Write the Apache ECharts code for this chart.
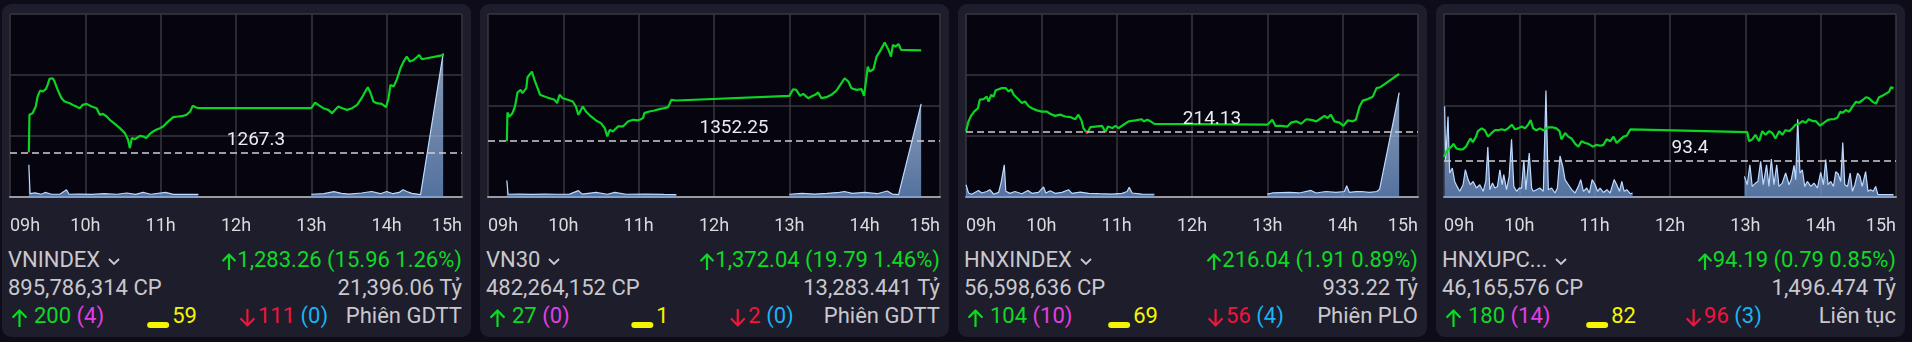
<!DOCTYPE html>
<html><head><meta charset="utf-8">
<script src="https://cdn.jsdelivr.net/npm/echarts@6/dist/echarts.min.js"></script>
<style>
html,body{margin:0;padding:0;background:#0d0c18;width:1912px;height:342px;overflow:hidden;font-family:Roboto,"Noto Sans",sans-serif;}
.card{position:absolute;top:4px;width:469px;height:333px;background:#1e1d2b;border-radius:9px;}
.chart{position:absolute;left:0;top:0;width:469px;height:240px;}
.row{position:absolute;left:0;width:469px;height:28px;font-size:22px;line-height:28px;color:#c8c8ce;white-space:nowrap;}
.row > span{position:absolute;top:0;}
.g{color:#10d826}.m{color:#e23fe6}.y{color:#f5f500}.r{color:#f2143a}.c{color:#1ab4f2}
.bar{display:inline-block;width:22px;height:6px;background:#f5f500;border-radius:3px;vertical-align:-5px;margin-right:3px;}
.chev{margin-left:7px;vertical-align:middle;}
</style></head>
<body>
<div id="wrap"></div>
<script>
// ---------- DATA (time = minutes after 09:00) ----------
const hourTicks = ['09h','10h','11h','12h','13h','14h','15h'];

const vniT = [15,15.5,17,18,20.5,22,24,26,28.5,30,31.5,34,35.5,38,41,43.5,47.5,51.5,55.5,58,61,65,69,71.5,74,77,79.5,83.5,87.5,91.5,94,95.5,97,99.5,103.5,106,108.5,111.5,114,116.5,119.5,122,124.5,127.5,130,134,138,140.5,143.5,145.5,148,150,240,243,245.5,249.5,253.5,256.5,259,261.5,264.5,268.5,272.5,276.5,280,283,285,287,289.5,292,296,299.5,301.5,303,305.5,308,311,313.5,316,318.5,321.5,324,326,328,345];
const vniP = [1267.28,1273.47,1273.20,1273.74,1274.83,1276.47,1277.45,1277.29,1277.67,1278.38,1279.36,1279.47,1278.93,1277.56,1276.20,1275.65,1275.38,1274.94,1274.56,1275.11,1275.27,1274.83,1274.56,1273.47,1273.63,1273.20,1272.65,1272.00,1271.29,1270.47,1269.38,1268.01,1269.65,1269.49,1270.03,1269.92,1269.65,1270.36,1270.74,1271.01,1271.29,1271.56,1272.11,1272.65,1273.09,1273.20,1273.31,1273.47,1274.02,1274.94,1274.72,1274.56,1274.56,1275.49,1275.11,1274.56,1274.29,1273.74,1274.29,1274.83,1274.56,1274.29,1274.56,1275.11,1276.20,1277.29,1278.00,1277.13,1275.65,1275.38,1275.27,1274.72,1276.20,1278.38,1278.11,1279.20,1281.11,1282.20,1283.02,1282.20,1282.47,1282.91,1283.29,1282.58,1283.26];
const vniVT = [15,16,20,25,28,33,40,45,47,55,65,75,85,93,100,106,112,124,130,140,150,195,240,250,258,264,270,280,288,295,300,305,310,313,316,320,327,345];
const vniV = [17.6,1.8,2.3,1.5,2.5,1.5,1.6,4.0,1.5,1.6,1.4,1.8,1.5,2.2,1.4,2.5,1.5,2.5,1.4,1.5,1.4,null,1.5,1.8,2.9,2.0,1.6,2.2,3.0,1.8,3.0,1.8,2.5,4.0,3.0,2.0,1.3,78.5];

const v30T = [15,15.5,17,19.5,21.5,23.5,26,27.5,30.5,31.5,35,37,39.5,41.5,45,49,53,55,57,59.5,63.5,67.5,70,72,75.5,78,82,86,90,93,95,97,99.5,103.5,107.5,111.5,115.5,119.5,123.5,124.5,128.5,132.5,136.5,140.5,143.5,146,150,240,243,245.5,248.5,251,255,257.5,260.5,263,265.5,269.5,273.5,277.5,281.5,284,287,289.5,293.5,297.5,299.5,302.5,304,307,309.5,312,316,319,321,322.5,324.5,327,329,345];
const v30P = [1352.20,1358.47,1357.60,1358.33,1359.78,1362.84,1363.42,1362.69,1363.78,1366.18,1367.42,1365.60,1363.78,1362.33,1361.96,1361.60,1361.24,1360.51,1362.33,1361.60,1361.24,1360.87,1359.78,1357.96,1359.78,1358.69,1357.60,1356.73,1356.15,1355.05,1353.24,1354.69,1354.33,1355.42,1355.42,1356.51,1356.87,1356.73,1357.24,1358.33,1358.69,1358.91,1359.20,1359.42,1359.64,1361.24,1361.09,1362.11,1363.56,1363.42,1362.11,1362.55,1361.60,1361.96,1362.33,1362.84,1361.60,1361.82,1362.33,1363.27,1364.87,1365.96,1365.24,1363.78,1363.42,1363.56,1362.11,1368.51,1367.42,1367.93,1370.69,1371.78,1373.75,1372.15,1370.69,1373.24,1372.87,1373.45,1372.15,1372.04];
const v30VT = [15,16,25,35,45,55,65,72,75,86,95,101,110,125,140,150,195,240,250,260,270,280,284,290,300,310,318,322,327,345];
const v30V = [9.1,1.5,1.6,1.4,1.6,1.5,1.6,3.5,1.6,2.5,1.5,2.5,1.5,1.6,1.4,1.3,null,1.5,2.0,1.6,2.0,2.5,3.0,2.0,2.5,1.8,3.3,1.6,1.3,50.9];

const hnxT = [0,2,4,6.5,9.5,11,14,16.5,18,20,22,23.5,26,28.5,31.5,34,36,38,39.5,42,44.5,47,50,52.5,56.5,60.5,64.5,67,71,75,79,83,87,89.5,92,93.5,96.5,99,103,108.5,111,113,116.5,119,121.5,125.5,129.5,135,140,141.5,144.5,147,150,240,244,246.5,251,256,259,263,267,271,275,279,281.5,285.5,288,290.5,293.5,297.5,300.5,304,308,310.5,313.5,316,320,324,327,330,345];
const hnxP = [214.15,214.48,214.66,214.80,214.91,215.19,215.21,215.29,215.13,215.35,215.29,215.49,215.53,215.57,215.57,215.46,215.53,215.35,215.40,215.19,215.08,215.13,214.97,214.91,214.84,214.80,214.80,214.73,214.66,214.70,214.64,214.62,214.55,214.70,214.51,214.26,214.09,214.29,214.31,214.33,214.12,214.31,214.26,214.33,214.26,214.37,214.48,214.51,214.55,214.48,214.53,214.48,214.40,214.37,214.53,214.33,214.33,214.31,214.44,214.48,214.40,214.55,214.53,214.48,214.55,214.66,214.59,214.70,214.48,214.44,214.33,214.51,214.48,214.53,214.97,215.16,215.21,215.29,215.57,215.60,216.04];
const hnxVT = [0,2,4.5,10,12.5,16.5,19,22,26,28,29,30.5,31.7,35,39,44.5,49.3,52.4,57.7,61.8,63.6,67,71,76.4,81.7,84.4,91,97.7,105.7,116.3,124.3,128.3,130,132.3,140,150,195,240,244,257.4,265.4,274.8,278.8,286.7,294.7,301.4,303.2,305.4,310.7,314.7,321.4,327.2,329.4,345];
const hnxV = [6.7,2.2,1.5,3.6,2.2,3.0,4.0,1.5,2.5,8.0,7.6,17.6,3.1,2.0,3.0,1.8,3.6,2.0,2.5,5.5,2.2,3.4,2.0,2.5,4.0,2.0,2.7,2.0,1.8,1.6,2.0,3.0,5.3,2.2,1.6,1.5,null,1.6,2.2,2.5,2.2,3.6,2.2,3.0,2.5,3.0,6.2,2.5,2.9,3.0,2.5,3.0,4.2,57];

const upT = [0,2,4,6,7.5,10,12.5,15,17.5,19,21,23,25.5,27,30,32.5,35,38,40.5,43,46,48.5,51,54,56.5,59,62,64.5,67,69,71,73.5,76.5,79,83,87,89.5,92,93.5,96.5,99,101.5,104.5,107,109.5,112.5,115,118.5,121.5,124.5,127,129.5,132.5,135,137.5,140.5,143,145.5,148.5,150,241.5,243,245.5,248,251,253.5,256,259,261.5,264,267,269.5,272,275,277.5,280,282.5,285.5,288,290.5,293.5,296,299.5,302.5,305.5,308,310.5,313.5,315.5,317.5,320,322.5,325.5,328,330.5,333.5,336,338.5,341.5,344,346.5,349.5,352,354.5,356,358];
const upP = [93.44,93.50,93.53,93.55,93.58,93.53,93.52,93.52,93.55,93.59,93.64,93.60,93.66,93.72,93.75,93.73,93.66,93.70,93.73,93.73,93.74,93.73,93.75,93.79,93.74,93.75,93.77,93.75,93.79,93.84,93.75,93.73,93.75,93.73,93.76,93.76,93.75,93.72,93.63,93.70,93.66,93.64,93.58,93.55,93.61,93.59,93.58,93.55,93.57,93.56,93.57,93.63,93.61,93.66,93.59,93.63,93.66,93.67,93.74,93.75,93.71,93.61,93.63,93.68,93.61,93.72,93.68,93.72,93.70,93.64,93.72,93.68,93.73,93.72,93.75,93.79,93.80,93.83,93.81,93.85,93.83,93.83,93.78,93.81,93.84,93.85,93.85,93.87,93.93,93.92,93.95,93.93,93.99,94.04,94.03,94.06,94.09,94.08,94.04,94.02,94.09,94.11,94.13,94.15,94.20,94.19];
const upVT = [0.5,1.3,3.2,4.5,6.6,8.5,10.4,12.5,15.2,17,19.2,21,23.2,25.8,28.5,31.2,33.3,34.9,36.5,38.6,40.5,42.6,44.5,46.3,47.6,49.8,51.9,53.8,55.6,57.8,59.9,61.8,63.6,65.2,67.9,69.8,71.1,73.7,76.4,79.1,81.2,83.1,85.7,88.4,90.3,92.4,94.6,96.4,99.1,101.7,104.4,107,108.9,111,113.7,115.8,118,120.4,122.3,124.3,127,129.7,132.3,135.5,137.6,139.8,141.6,143.5,145.6,148.3,150.2,195,239.3,241.5,243.6,245.5,248.1,250,252.2,254.3,256.9,258.8,260.7,262.8,265,266.8,269.4,272.1,274.8,276.6,278.8,280.1,281.7,283.5,285.4,287.3,289.4,292.1,294.7,297.4,300,302.2,304,305.9,308,310.2,312,313.9,316,317.6,319.2,321.4,323.5,325.3,327.2,329.4,331.3,333.1,335.8,337.7,339.8,341.9,343.8,345.6,358];
const upV = [49.5,20.4,44.0,13.1,15.8,8.5,5.8,3.1,6.7,14.9,9.5,6.7,8.5,4.9,6.7,3.1,8.5,27.3,4.0,7.6,4.9,5.8,14.9,6.7,12.2,4.0,11.3,31.6,5.8,3.1,4.9,4.9,20.0,4.0,24.0,4.9,3.1,4.0,4.9,3.1,58.2,4.0,4.9,2.2,4.9,22.4,16.7,9.5,6.7,4.0,2.2,5.8,9.5,3.1,4.9,2.2,9.5,6.7,3.1,4.9,2.5,4.0,2.2,9.5,6.7,3.1,8.5,3.1,4.0,1.8,2.2,null,11.3,6.7,17.6,5.8,7.6,8.5,19.5,6.7,17.6,5.8,20.7,6.7,17.6,5.8,7.6,13.1,6.7,9.5,17.3,9.5,42.5,13.1,14.9,5.8,8.5,5.8,7.6,4.9,13.5,6.7,20.4,6.7,8.5,5.8,13.8,12.7,8.5,29.8,6.7,5.8,13.1,3.1,6.7,13.1,11.3,5.8,13.9,3.1,4.0,3.1,5.8,1.3,1.3];

const refs = [1267.3, 1352.25, 214.13, 93.4];
const yMins = [1260, 1340, 212, 93];
const yMaxs = [1290, 1380, 218, 95];
const ySteps = [10, 20, 2, 1];

const names = ['VNINDEX', 'VN30', 'HNXINDEX', 'HNXUPC...'];
const lastTexts = ['1,283.26 (15.96 1.26%)', '1,372.04 (19.79 1.46%)', '216.04 (1.91 0.89%)', '94.19 (0.79 0.85%)'];
const volTexts = ['895,786,314 CP', '482,264,152 CP', '56,598,636 CP', '46,165,576 CP'];
const valTexts = ['21,396.06 Tỷ', '13,283.441 Tỷ', '933.22 Tỷ', '1,496.474 Tỷ'];
const upCounts = [200, 27, 104, 180];
const ceilCounts = [4, 0, 10, 14];
const flatCounts = [59, 1, 69, 82];
const downCounts = [111, 2, 56, 96];
const floorCounts = [0, 0, 4, 3];
const sessions = ['Phiên GDTT', 'Phiên GDTT', 'Phiên PLO', 'Liên tục'];

const series = [
  {t: vniT, p: vniP, vt: vniVT, v: vniV},
  {t: v30T, p: v30P, vt: v30VT, v: v30V},
  {t: hnxT, p: hnxP, vt: hnxVT, v: hnxV},
  {t: upT, p: upP, vt: upVT, v: upV}
];

// ---------- LAYOUT ----------
const cardLefts = [2, 480, 958, 1436];
const wrap = document.getElementById('wrap');
const chev = '<svg class="chev" width="14" height="9" viewBox="0 0 14 9"><polyline points="2,2 7,7 12,2" fill="none" stroke="#c8c8ce" stroke-width="1.8"/></svg>';
function arrow(up, w, h, color, va, mr) {
  const cx = w / 2;
  const d = up
    ? 'M' + cx + ' ' + (h - 0.5) + 'V1.5M1.2 ' + (cx + 0.5) + 'L' + cx + ' 1.5L' + (w - 1.2) + ' ' + (cx + 0.5)
    : 'M' + cx + ' 0.5V' + (h - 1.5) + 'M1.2 ' + (h - cx - 0.5) + 'L' + cx + ' ' + (h - 1.5) + 'L' + (w - 1.2) + ' ' + (h - cx - 0.5);
  return '<svg width="' + w + '" height="' + h + '" viewBox="0 0 ' + w + ' ' + h + '" style="vertical-align:' + va + 'px;margin-right:' + mr + 'px"><path d="' + d + '" fill="none" stroke="' + color + '" stroke-width="2.2" stroke-linecap="round" stroke-linejoin="round"/></svg>';
}
const GREEN = '#10d826', RED = '#f2143a';
const zip = (a, b) => a.map((x, i) => [x, b[i] === null ? '-' : b[i]]);

for (let i = 0; i < 4; i++) {
  const card = document.createElement('div');
  card.className = 'card';
  card.style.left = cardLefts[i] + 'px';
  const flatCenter = i < 2 ? 170 : 175;
  const downCenter = i < 2 ? 282 : 288;
  card.innerHTML =
    '<div class="chart" id="c' + i + '"></div>' +
    '<div class="row" style="top:242px"><span style="left:6px">' + names[i] + chev + '</span>' +
    '<span class="g" style="right:9px">' + arrow(true, 14, 17, GREEN, -3, 1) + lastTexts[i] + '</span></div>' +
    '<div class="row" style="top:270px"><span style="left:6px">' + volTexts[i] + '</span>' +
    '<span style="right:9px">' + valTexts[i] + '</span></div>' +
    '<div class="row" style="top:298px"><span style="left:10px">' + arrow(true, 15, 18, GREEN, -4, 7) + '<span class="g">' + upCounts[i] + '</span> <span class="m">(' + ceilCounts[i] + ')</span></span>' +
    '<span style="left:' + flatCenter + 'px;transform:translateX(-50%)"><span class="bar"></span><span class="y">' + flatCounts[i] + '</span></span>' +
    '<span style="left:' + downCenter + 'px;transform:translateX(-50%)">' + arrow(false, 15, 18, RED, -4, 3) + '<span class="r">' + downCounts[i] + '</span> <span class="c">(' + floorCounts[i] + ')</span></span>' +
    '<span style="right:9px">' + sessions[i] + '</span></div>';
  wrap.appendChild(card);

  const s = series[i];
  const span = yMaxs[i] - yMins[i];
  const chart = echarts.init(document.getElementById('c' + i), null, {renderer: 'canvas'});
  chart.setOption({
    animation: false,
    grid: {left: 8, right: 9, top: 10, height: 183, show: true, backgroundColor: '#05040f', borderWidth: 0},
    xAxis: {
      type: 'value', min: 0, max: 360, interval: 60,
      axisLine: {show: true, onZero: false, lineStyle: {color: '#9a9aa0', width: 2}},
      axisTick: {show: false},
      splitLine: {show: true, lineStyle: {color: '#37373c', width: 1.5}},
      axisLabel: {color: '#dadade', fontSize: 18, margin: 20, fontFamily: 'Roboto',
        alignMinLabel: 'left', alignMaxLabel: 'right',
        formatter: v => hourTicks[Math.round(v / 60)]}
    },
    yAxis: [
      {type: 'value', min: yMins[i], max: yMaxs[i], interval: ySteps[i],
        axisLabel: {show: false}, axisLine: {show: false}, axisTick: {show: false},
        splitLine: {show: true, lineStyle: {color: '#37373c', width: 1.5}}},
      {type: 'value', min: 0, max: 100, show: false, splitLine: {show: false}}
    ],
    visualMap: {show: false, type: 'piecewise', seriesIndex: 1, dimension: 1,
      pieces: [{gte: yMins[i] - span, lt: refs[i], color: '#ff1a3c'},
               {gte: refs[i], lte: yMaxs[i] + span, color: '#0cd423'}]},
    series: [
      {type: 'line', yAxisIndex: 1, data: zip(s.vt, s.v), showSymbol: false, connectNulls: false, z: 1,
        lineStyle: {width: 1.2, color: '#bcdaff'},
        areaStyle: {color: new echarts.graphic.LinearGradient(0, 0, 0, 1, [
          {offset: 0, color: 'rgba(190,218,252,1)'}, {offset: 1, color: 'rgba(118,160,220,1)'}])}},
      {type: 'line', yAxisIndex: 0, data: zip(s.t, s.p), showSymbol: false, z: 3,
        lineStyle: {width: 2.2},
        markLine: {silent: true, symbol: 'none', animation: false,
          lineStyle: {type: [7, 4], color: '#cfcfd2', width: 1.5},
          label: {show: true, position: 'middle', formatter: String(refs[i]), color: '#ececf0',
            fontSize: 19, fontFamily: 'Roboto', padding: [0, 0, 0, 40], distance: 3},
          data: [{yAxis: refs[i]}]}}
    ]
  });
}
</script>
</body></html>
